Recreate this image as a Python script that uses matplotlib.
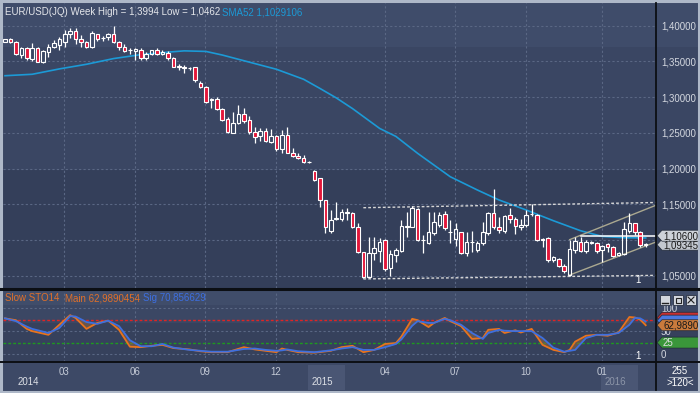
import matplotlib
matplotlib.use("Agg")
import matplotlib.pyplot as plt
from matplotlib.patches import Rectangle, Polygon

plt.rcParams["font.family"] = ["Liberation Sans", "DejaVu Sans"]

W, H = 700, 393

# weekly EUR/USD candles
opens = [1.3776, 1.3814, 1.3776, 1.3590, 1.3692, 1.3534, 1.3692, 1.3487, 1.3627, 1.3706,
         1.3730, 1.3767, 1.3879, 1.3926, 1.3814, 1.3767, 1.3706, 1.3879, 1.3832, 1.3846,
         1.3879, 1.3767, 1.3706, 1.3660, 1.3646, 1.3660, 1.3543, 1.3599, 1.3660, 1.3599,
         1.3613, 1.3552, 1.3430, 1.3420, 1.3412, 1.3426, 1.3202, 1.3137, 1.2966, 1.2969,
         1.2829, 1.2689, 1.2502, 1.2633, 1.2763, 1.2679, 1.2511, 1.2455, 1.2530, 1.2376,
         1.2455, 1.2268, 1.2469, 1.2212, 1.2175, 1.2142, 1.2095, 1.1960, 1.1863, 1.1560,
         1.1130, 1.1300, 1.1294, 1.1373, 1.1382, 1.1177, 1.0836, 1.0482, 1.0813, 1.0850,
         1.0999, 1.0602, 1.0789, 1.0850, 1.1180, 1.1186, 1.1429, 1.0999, 1.0953, 1.1093,
         1.1210, 1.1364, 1.1110, 1.1009, 1.1111, 1.0822, 1.0976, 1.0860, 1.0953, 1.1102,
         1.1382, 1.1186, 1.1130, 1.1350, 1.1290, 1.1177, 1.1210, 1.1364, 1.1350, 1.1009,
         1.1023, 1.0720, 1.0729, 1.0635, 1.0509, 1.0855, 1.0976, 1.0850, 1.0962, 1.0953,
         1.0860, 1.0943, 1.0897, 1.0789, 1.0803, 1.1130, 1.1233, 1.1116, 1.0934]
highs = [1.3820, 1.3825, 1.3785, 1.3706, 1.3700, 1.3753, 1.3700, 1.3660, 1.3739, 1.3800,
         1.3846, 1.3940, 1.3973, 1.3963, 1.3870, 1.3786, 1.3926, 1.3879, 1.3860, 1.3893,
         1.3994, 1.3786, 1.3739, 1.3692, 1.3692, 1.3683, 1.3627, 1.3664, 1.3683, 1.3660,
         1.3646, 1.3566, 1.3459, 1.3450, 1.3426, 1.3426, 1.3221, 1.3156, 1.2983, 1.2997,
         1.2843, 1.2717, 1.2796, 1.2889, 1.2843, 1.2735, 1.2577, 1.2563, 1.2563, 1.2549,
         1.2469, 1.2539, 1.2577, 1.2282, 1.2212, 1.2189, 1.2105, 1.1980, 1.1863, 1.1560,
         1.1420, 1.1527, 1.1429, 1.1443, 1.1396, 1.1233, 1.0836, 1.1046, 1.1046, 1.1023,
         1.1009, 1.0859, 1.0883, 1.1280, 1.1396, 1.1476, 1.1443, 1.1070, 1.1396, 1.1396,
         1.1396, 1.1410, 1.1280, 1.1233, 1.1111, 1.1116, 1.1130, 1.0990, 1.1256, 1.1396,
         1.1709, 1.1317, 1.1350, 1.1443, 1.1317, 1.1290, 1.1420, 1.1504, 1.1364, 1.1023,
         1.1046, 1.0775, 1.0743, 1.0663, 1.1000, 1.1046, 1.1046, 1.0999, 1.0985, 1.0976,
         1.0929, 1.0962, 1.0915, 1.0836, 1.1256, 1.1382, 1.1242, 1.1130, 1.0962]
lows = [1.3770, 1.3760, 1.3590, 1.3552, 1.3520, 1.3506, 1.3490, 1.3480, 1.3566, 1.3683,
        1.3660, 1.3706, 1.3832, 1.3750, 1.3706, 1.3683, 1.3692, 1.3786, 1.3786, 1.3800,
        1.3753, 1.3660, 1.3627, 1.3599, 1.3520, 1.3520, 1.3520, 1.3590, 1.3590, 1.3590,
        1.3520, 1.3420, 1.3380, 1.3333, 1.3380, 1.3216, 1.3123, 1.2922, 1.2843, 1.2820,
        1.2670, 1.2502, 1.2497, 1.2623, 1.2642, 1.2483, 1.2352, 1.2390, 1.2376, 1.2362,
        1.2250, 1.2222, 1.2212, 1.2156, 1.2128, 1.2081, 1.2081, 1.1830, 1.1457, 1.1102,
        1.1093, 1.1280, 1.1270, 1.1280, 1.1163, 1.0822, 1.0462, 1.0468, 1.0719, 1.0696,
        1.0570, 1.0495, 1.0696, 1.0836, 1.1046, 1.1177, 1.0990, 1.0812, 1.0943, 1.1070,
        1.1186, 1.1140, 1.0953, 1.0915, 1.0803, 1.0775, 1.0836, 1.0836, 1.0930, 1.1070,
        1.1150, 1.1102, 1.1102, 1.1242, 1.1083, 1.1140, 1.1186, 1.1336, 1.0990, 1.0906,
        1.0696, 1.0696, 1.0617, 1.0542, 1.0495, 1.0822, 1.0836, 1.0820, 1.0940, 1.0822,
        1.0696, 1.0836, 1.0757, 1.0775, 1.0789, 1.1093, 1.1070, 1.0906, 1.0906]
closes = [1.3814, 1.3767, 1.3599, 1.3683, 1.3543, 1.3683, 1.3496, 1.3646, 1.3706, 1.3753,
          1.3814, 1.3879, 1.3926, 1.3814, 1.3767, 1.3706, 1.3893, 1.3814, 1.3828, 1.3879,
          1.3767, 1.3697, 1.3646, 1.3655, 1.3674, 1.3543, 1.3599, 1.3660, 1.3599, 1.3627,
          1.3543, 1.3426, 1.3426, 1.3412, 1.3403, 1.3240, 1.3137, 1.2936, 1.2969, 1.2829,
          1.2680, 1.2516, 1.2642, 1.2763, 1.2670, 1.2516, 1.2446, 1.2530, 1.2390, 1.2455,
          1.2268, 1.2469, 1.2222, 1.2175, 1.2142, 1.2095, 1.2090, 1.1840, 1.1560, 1.1186,
          1.1280, 1.1306, 1.1387, 1.1397, 1.1186, 1.0836, 1.0485, 1.0813, 1.0883, 1.0976,
          1.0588, 1.0803, 1.0859, 1.1195, 1.1200, 1.1443, 1.0999, 1.0995, 1.1116, 1.1256,
          1.1350, 1.1163, 1.1113, 1.1149, 1.0813, 1.0976, 1.0972, 1.0962, 1.1116, 1.1373,
          1.1177, 1.1140, 1.1336, 1.1290, 1.1196, 1.1210, 1.1350, 1.1365, 1.0999, 1.1005,
          1.0720, 1.0757, 1.0635, 1.0570, 1.0869, 1.0990, 1.0850, 1.0976, 1.0966, 1.0850,
          1.0915, 1.0906, 1.0775, 1.0822, 1.1149, 1.1242, 1.1116, 1.0929, 1.09345]

# SMA52 read at a few bars
sma_bar = [0, 5, 10, 15, 20, 25, 30, 33, 37, 40, 45, 50, 55, 58, 61, 64, 69, 72,
           76, 82, 87, 91, 96, 101, 106, 110, 114, 118]
sma_val = [1.3300, 1.3320, 1.3395, 1.3460, 1.3540, 1.3595, 1.3630, 1.3648, 1.3640,
           1.3590, 1.3490, 1.3390, 1.3250, 1.3122, 1.2990, 1.2840, 1.2562, 1.2450,
           1.2213, 1.1886, 1.1700, 1.1560, 1.1420, 1.1270, 1.1130, 1.1050, 1.1032, 1.1029]

# slow stochastic (14)
sto_bar = [0, 2, 4, 5, 8, 10, 12, 13, 15, 17, 19, 21, 23, 25, 27, 29, 31, 34, 36, 38,
           41, 44, 46, 48, 50, 51, 52, 54, 57, 60, 62, 64, 66, 68, 70, 72, 73, 75, 76, 78,
           79, 81, 82, 84, 86, 88, 89, 91, 92, 94, 95, 97, 99, 101, 103, 104, 105, 107,
           109, 111, 113, 114, 115, 116, 117, 118]
sto_main = [78, 74, 55, 50, 42, 64, 85, 79, 55, 68, 73, 53, 16, 15, 18, 20, 13, 10, 6, 4,
            4, 15, 10, 7, 4, 12, 9, 4, 3, 7, 15, 18, 4, 9, 22, 24, 38, 77, 74, 59,
            68, 79, 72, 61, 33, 35, 53, 55, 46, 52, 47, 55, 20, 9, 4, 9, 27, 40,
            42, 40, 47, 64, 81, 80, 75, 63]
sto_sig = [78, 72, 60, 55, 46, 57, 83, 82, 70, 66, 73, 61, 30, 17, 17, 22, 14, 9, 7, 5,
           5, 11, 12, 9, 7, 8, 10, 6, 4, 8, 12, 15, 9, 9, 15, 22, 32, 62, 72, 68,
           68, 77, 74, 64, 46, 33, 46, 53, 51, 50, 50, 50, 35, 14, 5, 7, 9, 35,
           42, 42, 46, 55, 64, 79, 78, 71]

month_labels = ["03", "06", "09", "12", "04", "07", "10", "01"]
month_bar = [11, 24, 37, 50, 70, 83, 96, 110]
year_labels = ["2014", "2015", "2016"]
year_bar = [0, 56, 110]
price_ticks = [1.05, 1.10, 1.15, 1.20, 1.25, 1.30, 1.35, 1.40]

# drawn objects: range lines, channel, horizontal line
range_top = [(66, 1.1452), (120, 1.1525)]
range_bot = [(66, 1.0455), (120, 1.0505)]
chan_top = [(104, 1.1005), (120, 1.1490)]
chan_bot = [(104, 1.0510), (120, 1.0975)]
hline_price, hline_from = 1.1060, 106

last_price = closes[-1]
sma_last = "1,1029106"
main_last, sig_last = "62,9890454", "70,856629"

grid_c = "#5a6784"
txt_c = "#d4d8e0"
fs = 7.0


def box(x0, y0, x1, y1):
    return [x0 / W, 1 - y1 / H, (x1 - x0) / W, (y1 - y0) / H]


fig = plt.figure(figsize=(W / 100, H / 100), dpi=100)
fig.patch.set_facecolor("#38445f")

# background bands
bg = fig.add_axes([0, 0, 1, 1], zorder=0)
bg.set_xlim(0, W)
bg.set_ylim(H, 0)
bg.axis("off")
for y0, y1, c in [(0, 47, "#3f4c6a"), (47, 170, "#3a4663"), (170, 288, "#343f5a"),
                  (291, 305, "#404d6a"), (305, 323, "#3b4764"), (323, 362, "#36415c"),
                  (362, 393, "#3d4966")]:
    bg.add_patch(Rectangle((0, y0), W, y1 - y0, color=c, lw=0))

n = len(opens)
xs = list(range(n))
xlim = (-0.37, 119.9)

# ---- main price panel
ax = fig.add_axes(box(3, 3, 656, 288), zorder=1)
ax.set_facecolor("none")
ax.set_xlim(*xlim)
ax.set_ylim(1.0328, 1.4318)
for s in ax.spines.values():
    s.set_visible(False)
ax.set_xticks([])
ax.yaxis.tick_right()
ax.set_yticks(price_ticks)
ax.set_yticklabels([("%.5f" % p).replace(".", ",") for p in price_ticks])
ax.tick_params(axis="y", length=0, pad=3.5, labelsize=fs, labelcolor=txt_c)
for p in price_ticks:
    ax.axhline(p, color=grid_c, lw=0.8, ls=(0, (2, 2)), zorder=0)
for m in month_bar:
    ax.axvline(m - 0.1, color=grid_c, lw=0.8, ls=(0, (2, 2)), zorder=0)

ax.plot(sma_bar, sma_val, color="#1c9ad6", lw=1.2, zorder=2)

for i in xs:
    o, h, l, c = opens[i], highs[i], lows[i], closes[i]
    top, bot = max(o, c), min(o, c)
    ax.vlines(i, top, h, color="white", lw=0.9, zorder=3)
    ax.vlines(i, l, bot, color="white", lw=0.9, zorder=3)
    body = max(top - bot, 0.0004)
    face = "#e3173a" if c < o else "none"
    ax.add_patch(Rectangle((i - 0.33, bot), 0.66, body, facecolor=face,
                           edgecolor="white", lw=0.8, zorder=4))

for pts, col, ls in [(range_top, "#d6d6d6", (0, (2, 1.5))), (range_bot, "#d6d6d6", (0, (2, 1.5))),
                     (chan_top, "#aaa890", "-"), (chan_bot, "#aaa890", "-")]:
    ax.plot([p[0] for p in pts], [p[1] for p in pts], color=col, lw=1, ls=ls, zorder=2)
ax.plot([hline_from, xlim[1]], [hline_price, hline_price], color="white", lw=1.1, zorder=5)

ax.text(0.003, 0.985, "EUR/USD(JQ) Week High = 1,3994 Low = 1,0462", transform=ax.transAxes,
        color="#e4e6ea", fontsize=fs, va="top", ha="left")
ax.text(0.335, 0.985, "SMA52 " + sma_last, transform=ax.transAxes,
        color="#1c9ad6", fontsize=fs, va="top", ha="left")
ax.text(0.972, 0.01, "1", transform=ax.transAxes, color="white", fontsize=fs, va="bottom", ha="center")

# ---- stochastic panel
st = fig.add_axes(box(3, 291, 656, 362), zorder=1)
st.set_facecolor("none")
st.set_xlim(*xlim)
st.set_ylim(-17.5, 137.9)
for s in st.spines.values():
    s.set_visible(False)
st.set_xticks([])
st.yaxis.tick_right()
st.set_yticks([0, 50, 100])
st.set_yticklabels(["0", "50", "100"])
st.tick_params(axis="y", length=0, pad=3.5, labelsize=fs, labelcolor=txt_c)
for v in [0, 50, 100]:
    st.axhline(v, color=grid_c, lw=0.8, ls=(0, (2, 2)), zorder=0)
for m in month_bar:
    st.axvline(m - 0.1, color=grid_c, lw=0.8, ls=(0, (2, 2)), zorder=0)
st.axhline(75, color="#e02424", lw=1, ls=(0, (2, 1.5)), zorder=1)
st.axhline(25, color="#1f9a1f", lw=1, ls=(0, (2, 1.5)), zorder=1)
st.fill_between(sto_bar, sto_main, sto_sig, color="#9c6a3c", alpha=0.5, lw=0, zorder=2)
st.plot(sto_bar, sto_main, color="#e8731e", lw=1.3, zorder=3)
st.plot(sto_bar, sto_sig, color="#3d6fe0", lw=1.3, zorder=3)
st.text(0.003, 0.9, "Slow STO14", transform=st.transAxes, color="#e0702a", fontsize=fs, va="center")
st.text(0.095, 0.9, "Main " + main_last, transform=st.transAxes, color="#e0702a", fontsize=fs, va="center")
st.text(0.214, 0.9, "Sig " + sig_last, transform=st.transAxes, color="#3d6fe0", fontsize=fs, va="center")
st.text(0.972, 0.02, "1", transform=st.transAxes, color="white", fontsize=fs, va="bottom", ha="center")

# ---- time axis
ta = fig.add_axes(box(3, 362, 656, 390), zorder=1)
ta.set_facecolor("none")
ta.set_xlim(*xlim)
ta.set_ylim(1, 0)
ta.axis("off")
for lab, m in zip(month_labels, month_bar):
    ta.text(m - 0.1, 0.36, lab, color="#c4cad6", fontsize=fs, ha="center", va="center")
for lab, yb in zip(year_labels, year_bar):
    if yb > 0:
        ta.add_patch(Rectangle((yb - 0.2, 0.1), 6.8, 1.0, facecolor="#4a5674", lw=0))
    ta.text(yb + 2.4 if yb == 0 else yb + 0.5, 0.72, lab,
            color="#8c95a8" if lab == "2016" else "#dde0e6", fontsize=fs, ha="left", va="center")

# ---- overlay: frame, separators, value tags
ov = fig.add_axes([0, 0, 1, 1], zorder=3)
ov.set_facecolor("none")
ov.set_xlim(0, W)
ov.set_ylim(H, 0)
ov.axis("off")


def ypx(axis, v):
    d = axis.transData.transform((0, v))
    return ov.transData.inverted().transform(d)[1]


def tag(y, text, face, tc):
    ov.add_patch(Polygon([(657, y), (662, y - 5.5), (699, y - 5.5), (699, y + 5.5), (662, y + 5.5)],
                         closed=True, facecolor=face, edgecolor="#222a38", lw=0.5))
    ov.text(663, y + 0.5, text, color=tc, fontsize=fs, va="center", ha="left")


ov.plot([656, 656], [3, 390], color="#0c0f14", lw=1.3)
ov.plot([0, W], [289.3, 289.3], color="#0c0f14", lw=2.2)
ov.plot([0, W], [362.3, 362.3], color="#0c0f14", lw=1.4)

tag(ypx(ax, last_price), ("%.5f" % last_price).replace(".", ","), "#c3c8d0", "#1a1a1a")
tag(ypx(ax, hline_price), ("%.5f" % hline_price).replace(".", ","), "#cfd3d9", "#1a1a1a")
tag(ypx(st, 75) - 2, "", "#c83030", "white")
tag(ypx(st, 70.86) - 1, "", "#4a78e0", "white")
tag(ypx(st, 62.989), main_last[:7], "#c97a3c", "#1a1a1a")
tag(ypx(st, 25), "25", "#3a963a", "#e0e0e0")

# window buttons
for bx in [660, 673, 686]:
    ov.add_patch(Rectangle((bx, 295), 10, 10, facecolor="#d2d6dd", edgecolor="#2a3244", lw=0.6))
ov.plot([662, 668], [303, 303], color="#222", lw=1)
ov.add_patch(Rectangle((675.5, 297.5), 5, 5, facecolor="none", edgecolor="#222", lw=0.8))
ov.plot([688, 694], [297, 303], color="#222", lw=0.8)
ov.plot([688, 694], [303, 297], color="#222", lw=0.8)

ov.text(680, 371.5, "255", color="white", fontsize=fs, ha="center", va="center")
ov.plot([669, 691], [377, 377], color="#c0c6d0", lw=0.6)
ov.text(680, 383.5, ">120<", color="white", fontsize=fs, ha="center", va="center")

# outer window frame
ov.add_patch(Rectangle((0.8, 0.8), W - 1.6, H - 1.6, facecolor="none", edgecolor="#aeb8c8", lw=2.2))

fig.savefig("out.png", dpi=100, facecolor=fig.get_facecolor())
